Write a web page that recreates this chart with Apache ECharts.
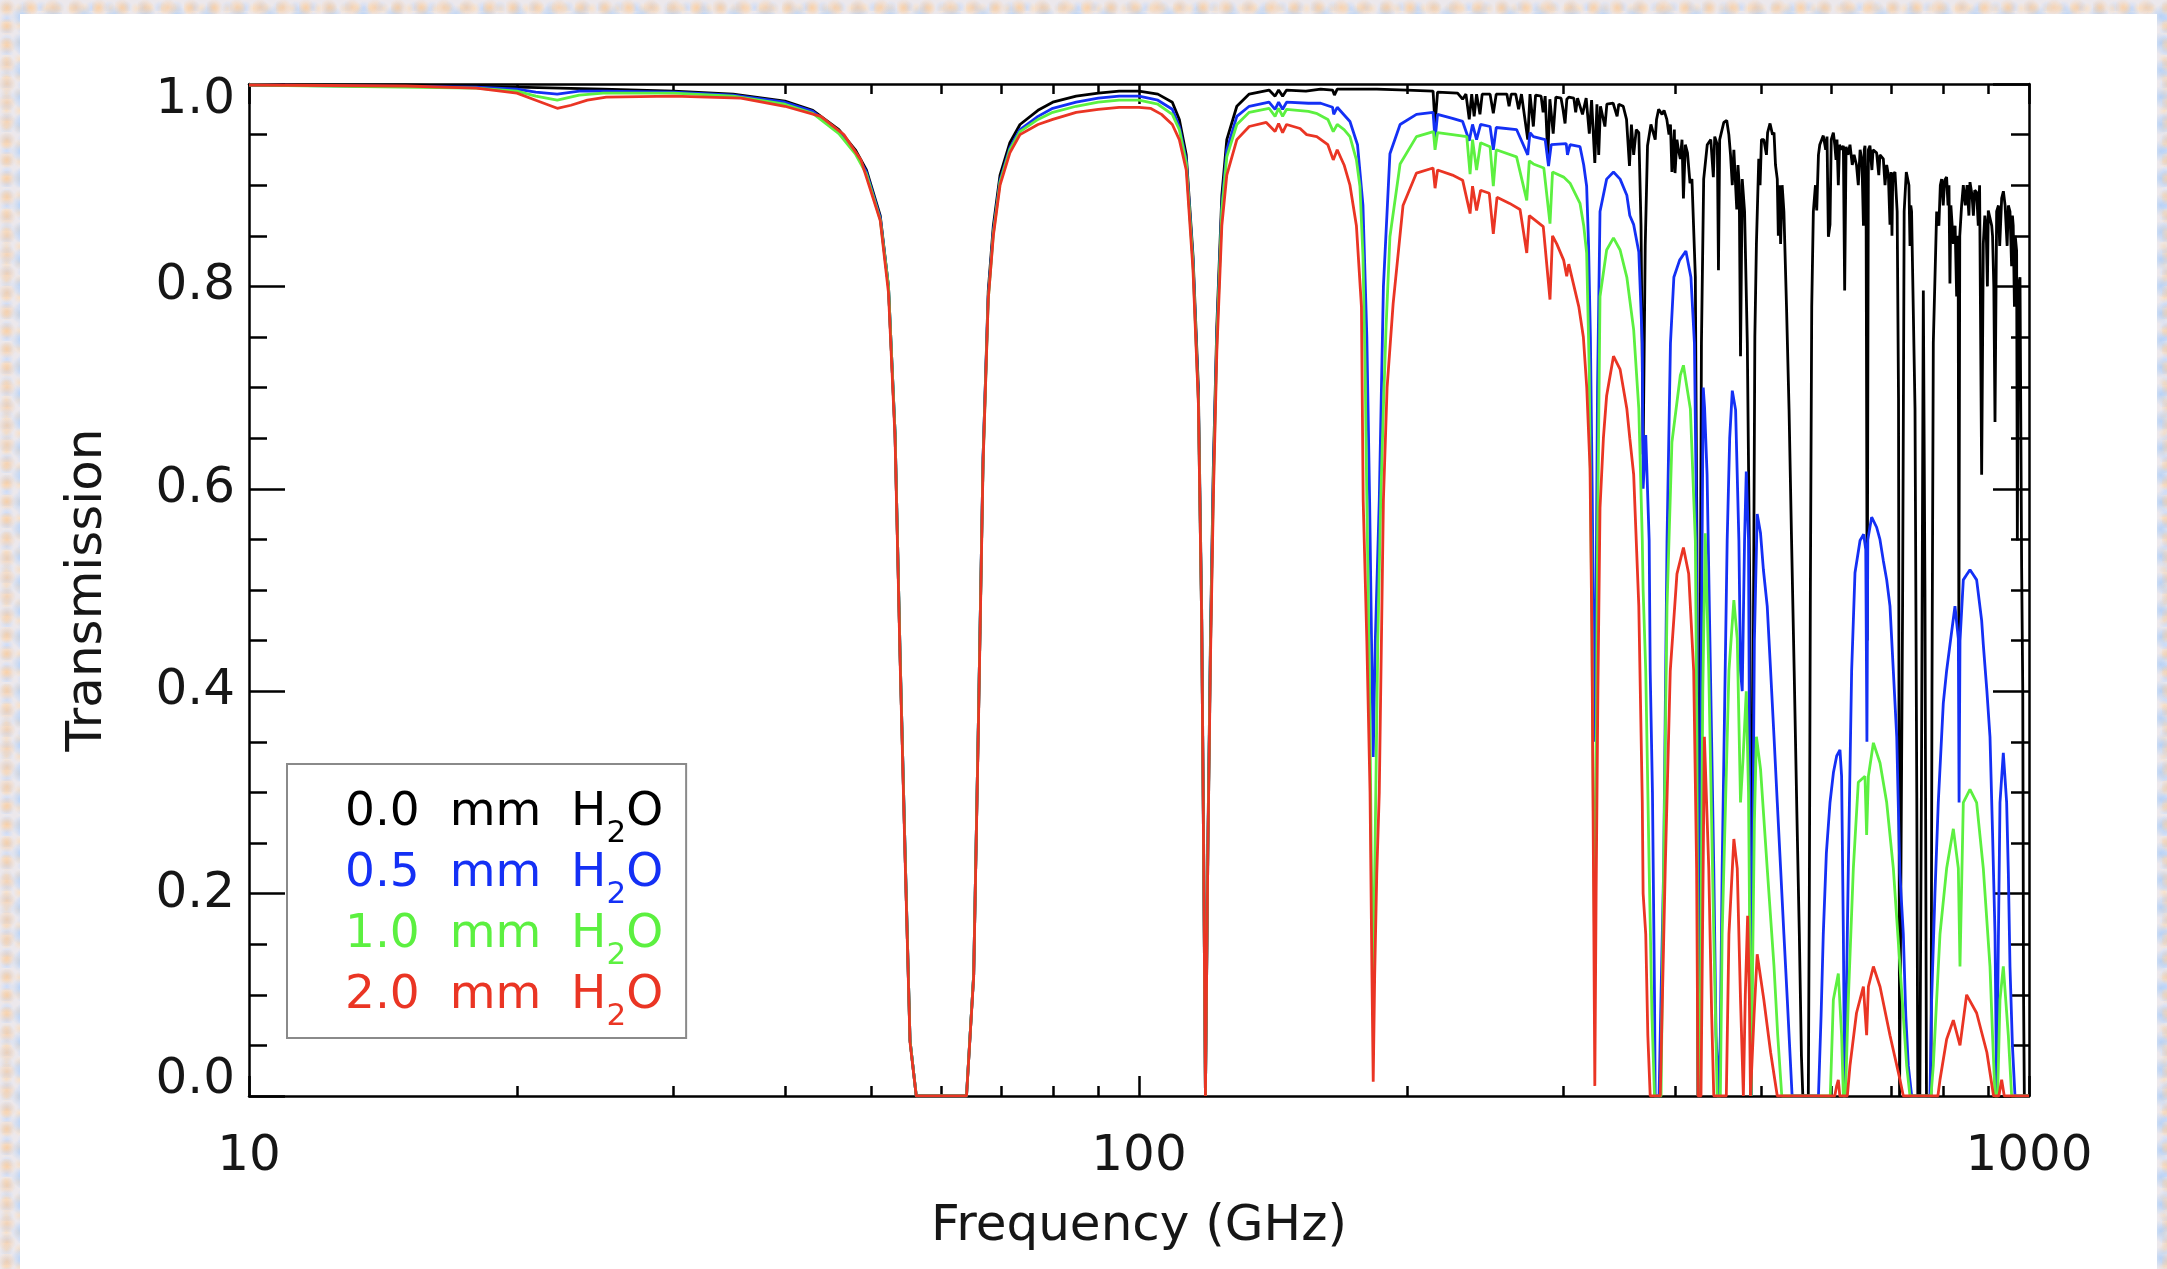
<!DOCTYPE html>
<html>
<head>
<meta charset="utf-8">
<script src="https://cdn.jsdelivr.net/npm/echarts@6/dist/echarts.min.js"></script>
<style>
html,body{margin:0;padding:0;width:2167px;height:1269px;overflow:hidden;}
body{
  background-color:#ece8ec;
  background-image:
    radial-gradient(circle at 30% 40%, rgba(250,200,150,.65) 0, rgba(250,200,150,0) 9px),
    radial-gradient(circle at 70% 60%, rgba(160,200,250,.65) 0, rgba(160,200,250,0) 11px),
    radial-gradient(circle at 50% 50%, rgba(255,220,180,.6) 0, rgba(255,220,180,0) 6px),
    radial-gradient(circle at 40% 70%, rgba(185,212,255,.6) 0, rgba(185,212,255,0) 7px);
  background-size: 23px 19px, 31px 27px, 13px 17px, 17px 11px;
}
#panel{position:absolute;left:20px;top:14px;width:2137px;height:1255px;background:#fff;}
#chart{position:absolute;left:0;top:0;width:2167px;height:1269px;}
</style>
</head>
<body>
<div id="panel"></div>
<div id="chart"></div>
<script>
// ---------------- data (frequency GHz, transmission) ----------------
const seriesNames = ['0.0 mm H2O', '0.5 mm H2O', '1.0 mm H2O', '2.0 mm H2O'];
const seriesColors = ['#000000', '#1430f5', '#5cf040', '#ea3524'];
const xMajorTicks = [10, 100, 1000];
const xMinorTicks = [20, 30, 40, 50, 60, 70, 80, 90, 200, 300, 400, 500, 600, 700, 800, 900];
const yTicks = [0, 0.2, 0.4, 0.6, 0.8, 1.0];

const trans00 = [[10,0.999],[15,0.999],[20,0.997],[25,0.995],[30,0.993],[35,0.99],[40,0.983],[43,0.974],[46,0.955],[48,0.935],[49.4,0.915],[51.2,0.87],[52.3,0.8],[53.2,0.655],[53.9,0.435],[54.6,0.24],[55.3,0.055],[56.2,0],[64,0],[65.2,0.12],[66,0.37],[66.8,0.63],[67.7,0.795],[68.6,0.86],[69.8,0.91],[71.6,0.942],[73.5,0.96],[77,0.974],[80,0.982],[85,0.988],[90,0.991],[95,0.993],[100,0.993],[105,0.99],[109,0.982],[111,0.965],[113,0.93],[115,0.83],[116.6,0.7],[117.6,0.48],[118.2,0.25],[118.75,0],[119.5,0.25],[120.3,0.45],[121.2,0.62],[122.3,0.76],[123.9,0.89],[125.5,0.945],[128.8,0.978],[133,0.99],[140,0.994],[142.2,0.988],[143.5,0.994],[145,0.988],[146.5,0.994],[154,0.993],[160,0.995],[165,0.994],[165.8,0.989],[167,0.995],[185,0.995],[200,0.994],[214,0.993],[215.1,0.96],[216.5,0.992],[228,0.991],[231,0.985],[233,0.99],[235,0.965],[236.5,0.99],[238,0.968],[239.5,0.99],[241.6,0.97],[243,0.99],[248,0.99],[250.1,0.971],[252,0.99],[259,0.99],[260.5,0.978],[262,0.99],[265,0.99],[267,0.975],[269,0.99],[273.4,0.945],[275,0.99],[277.4,0.958],[279,0.989],[283,0.988],[284.5,0.972],[286,0.988],[288,0.928],[289.5,0.985],[292,0.951],[294,0.987],[298,0.986],[299.5,0.975],[301.1,0.961],[302.5,0.985],[304,0.987],[308,0.986],[309.5,0.972],[311,0.986],[315,0.97],[318,0.986],[320.6,0.951],[322.5,0.984],[325.2,0.922],[327,0.98],[328.5,0.93],[330,0.978],[333.8,0.958],[335.5,0.98],[341,0.981],[344.5,0.968],[346,0.98],[350,0.978],[353,0.965],[355.7,0.919],[357.5,0.96],[359.6,0.93],[362,0.955],[364.4,0.952],[366.5,0.86],[368.5,0.634],[370.5,0.84],[372.7,0.939],[376,0.96],[380.2,0.945],[381.5,0.965],[383.6,0.975],[387,0.97],[389,0.974],[391.8,0.965],[394,0.95],[395.5,0.96],[397,0.913],[399.5,0.955],[400.2,0.912],[402.2,0.945],[403.7,0.935],[405.7,0.926],[407.5,0.945],[409,0.887],[411,0.94],[413.3,0.932],[416,0.902],[418.1,0.906],[421.8,0.809],[423.5,0.549],[424.76,0],[426.5,0.3],[428.5,0.744],[431,0.906],[435,0.94],[439,0.945],[441.9,0.908],[443.5,0.948],[446.5,0.94],[447.8,0.816],[449.2,0.945],[454,0.962],[457.5,0.964],[460,0.95],[462,0.93],[464.1,0.9],[466,0.935],[469.5,0.876],[471,0.92],[472.5,0.9],[474.1,0.731],[476.2,0.906],[479.1,0.874],[482.5,0.744],[485.8,0.484],[487.25,0],[489.5,0.35],[492,0.75],[494,0.842],[497,0.926],[498.7,0.9],[500.5,0.945],[503.6,0.945],[507,0.93],[508.5,0.952],[511.7,0.961],[515,0.95],[517,0.952],[519,0.92],[521.4,0.906],[522.8,0.85],[524.5,0.9],[525.9,0.842],[528,0.9],[530.4,0.874],[534,0.78],[537.5,0.679],[541,0.55],[544.7,0.42],[548.5,0.28],[552,0.16],[555,0.04],[557,0],[565,0],[566.5,0.2],[568,0.5],[570,0.78],[572.4,0.874],[575.5,0.9],[577.4,0.875],[580,0.93],[582,0.94],[587.3,0.949],[591,0.935],[593,0.948],[595.1,0.849],[597.6,0.861],[599.5,0.945],[602.8,0.952],[605,0.94],[607,0.925],[608.5,0.945],[610.6,0.9],[612.5,0.94],[616,0.935],[618.6,0.939],[620.7,0.796],[623,0.938],[626,0.93],[629.3,0.94],[633,0.92],[636,0.93],[640,0.92],[643,0.9],[646,0.935],[649,0.925],[651.6,0.86],[653,0.935],[654.2,0.939],[656,0.9],[658,0.45],[660,0.935],[662.7,0.939],[666,0.915],[668,0.935],[674.2,0.932],[678,0.91],[680,0.93],[686,0.926],[689,0.9],[692,0.92],[695,0.91],[697.9,0.861],[700,0.913],[701.5,0.85],[703,0.91],[707,0.913],[711,0.874],[713.5,0.69],[715.4,0],[718,0],[721,0.48],[724,0.874],[728,0.913],[733,0.9],[735,0.84],[736.5,0.88],[738,0.874],[744.6,0.679],[748,0.3],[750,0],[754,0],[757,0.3],[760.8,0.796],[764,0.5],[767,0],[776,0],[778,0.4],[780.7,0.744],[787.5,0.874],[792,0.86],[795,0.9],[797.7,0.906],[801,0.88],[804,0.905],[808,0.908],[811,0.88],[813,0.9],[815,0.803],[817,0.88],[822.2,0.842],[826,0.86],[829.3,0.79],[832.5,0.85],[834.1,0.446],[836,0.85],[840,0.88],[843.7,0.9],[848,0.88],[852,0.9],[856,0.87],[858.4,0.903],[863,0.89],[866,0.87],[869,0.895],[873.3,0.893],[877,0.86],[880,0.9],[884.7,0.614],[888.5,0.842],[892,0.87],[895,0.86],[898,0.8],[900,0.875],[904,0.874],[908,0.86],[910,0.85],[913,0.8],[915.8,0.666],[919.7,0.874],[924,0.88],[927,0.84],[931.7,0.887],[935.9,0.894],[940,0.88],[945,0.84],[948,0.88],[952,0.874],[956,0.82],[958,0.87],[960,0.86],[963,0.78],[965,0.85],[968.5,0.835],[970.3,0.549],[972.7,0.8],[977,0.809],[981.1,0.523],[984,0.4],[986,0.1],[988,0],[1000,0]];

const trans05 = [[10,0.999],[18,0.997],[20,0.995],[21,0.992],[22.2,0.99],[23.5,0.993],[25,0.993],[30,0.992],[35,0.989],[40,0.982],[43,0.973],[46,0.953],[48,0.933],[49.4,0.913],[51.2,0.868],[52.3,0.8],[53.2,0.655],[53.9,0.435],[54.6,0.24],[55.3,0.055],[56.2,0],[64,0],[65.2,0.12],[66,0.37],[66.8,0.63],[67.7,0.79],[68.6,0.855],[69.8,0.905],[71.6,0.937],[73.5,0.955],[77,0.968],[80,0.976],[85,0.982],[90,0.986],[95,0.988],[100,0.988],[105,0.984],[109,0.975],[111,0.958],[113,0.925],[115,0.825],[116.6,0.69],[117.6,0.47],[118.2,0.24],[118.75,0],[119.5,0.24],[120.3,0.44],[121.2,0.61],[122.3,0.75],[123.9,0.88],[125.5,0.935],[128.8,0.968],[133,0.978],[140,0.982],[142.2,0.975],[143.5,0.982],[145,0.975],[146.5,0.982],[155,0.981],[160,0.981],[165,0.977],[165.5,0.97],[167,0.977],[172.6,0.963],[176,0.94],[178.5,0.88],[180.3,0.75],[181.6,0.589],[182.5,0.45],[183.3,0.335],[184.3,0.45],[186.2,0.589],[188.2,0.8],[191.4,0.931],[196.5,0.96],[205,0.97],[214,0.972],[215.1,0.945],[216.5,0.97],[225,0.966],[231,0.963],[235,0.944],[237,0.96],[239.5,0.945],[242,0.96],[248,0.958],[250.1,0.935],[252,0.957],[265.6,0.955],[273.4,0.93],[275,0.952],[277.4,0.948],[286,0.945],[288.5,0.919],[290.5,0.94],[302,0.941],[303,0.93],[305,0.94],[313,0.938],[316,0.92],[318.4,0.899],[320,0.84],[321.5,0.75],[323,0.6],[324.2,0.45],[325.2,0.35],[326.3,0.5],[327.5,0.7],[329.6,0.874],[335.3,0.906],[341.3,0.913],[347.2,0.906],[353.3,0.89],[356,0.87],[359.6,0.861],[364.4,0.834],[367.7,0.744],[368.5,0.6],[371,0.653],[374.3,0.549],[375.3,0.42],[377.5,0.3],[379.5,0.1],[380.2,0],[384,0],[386,0.1],[388.6,0.225],[392,0.549],[395.5,0.744],[399,0.809],[405,0.826],[411.6,0.835],[417,0.809],[420.8,0.744],[422.5,0.614],[423.8,0.42],[424.76,0],[426,0.1],[428,0.4],[430.5,0.7],[432,0.68],[434.8,0.614],[438.6,0.42],[442.4,0.225],[445,0.06],[448,0],[450,0.06],[452.1,0.225],[458,0.549],[461,0.65],[464.1,0.697],[468.1,0.678],[472.1,0.549],[474.1,0.42],[476.2,0.4],[479.1,0.55],[481.2,0.617],[484,0.55],[486,0.2],[487.25,0],[489,0.2],[491.4,0.45],[495,0.575],[499.3,0.556],[503,0.52],[508,0.484],[512.5,0.42],[517,0.355],[521.4,0.29],[525.9,0.225],[530.4,0.16],[535.1,0.095],[541.8,0],[580,0],[584,0.08],[587.3,0.16],[592,0.24],[597.6,0.29],[603,0.32],[608,0.336],[613.2,0.342],[615.8,0.316],[618.6,0.16],[620.7,0],[623.5,0.1],[626.6,0.225],[632,0.42],[637.5,0.517],[645.9,0.549],[652,0.555],[655.5,0.54],[657.5,0.35],[659,0.55],[665.6,0.572],[674.2,0.562],[680,0.55],[686,0.529],[692,0.51],[697.9,0.484],[704,0.42],[710.2,0.355],[716,0.22],[722.4,0.16],[727,0.08],[731.8,0.03],[738.2,0],[774,0],[777.3,0.095],[784,0.2],[790.8,0.29],[801.1,0.388],[808,0.42],[815.1,0.446],[825.7,0.484],[832.9,0.452],[834.5,0.29],[836.5,0.45],[843.7,0.51],[851,0.515],[858.4,0.52],[865.8,0.515],[873.3,0.51],[884.7,0.47],[888.5,0.446],[896.8,0.4],[904,0.355],[910,0.26],[915.8,0.16],[919.7,0],[923.7,0.15],[927.7,0.29],[935.7,0.339],[943.8,0.29],[948,0.22],[952,0.128],[958,0.05],[964.4,0],[1000,0]];

const trans10 = [[10,0.999],[18,0.996],[20,0.993],[21,0.988],[22.2,0.984],[23.5,0.989],[25,0.991],[30,0.991],[35,0.988],[40,0.98],[43,0.971],[46,0.951],[48,0.931],[49.4,0.911],[51.2,0.866],[52.3,0.8],[53.2,0.655],[53.9,0.435],[54.6,0.24],[55.3,0.055],[56.2,0],[64,0],[65.2,0.12],[66,0.37],[66.8,0.625],[67.7,0.787],[68.6,0.852],[69.8,0.903],[71.6,0.935],[73.5,0.953],[77,0.965],[80,0.972],[85,0.978],[90,0.982],[95,0.984],[100,0.984],[105,0.98],[109,0.97],[111,0.955],[113,0.922],[115,0.822],[116.6,0.688],[117.6,0.47],[118.2,0.24],[118.75,0],[119.5,0.24],[120.3,0.44],[121.2,0.6],[122.3,0.745],[123.9,0.875],[125.5,0.928],[128.8,0.96],[133,0.972],[140,0.976],[142.2,0.968],[143.5,0.976],[145,0.968],[146.5,0.975],[155,0.973],[158.2,0.971],[163,0.965],[165.3,0.953],[167,0.96],[170,0.955],[172.6,0.948],[175.5,0.925],[177.1,0.899],[178.5,0.83],[179.5,0.72],[180.3,0.589],[181.6,0.4],[182.6,0.2],[183.3,0.115],[184.2,0.25],[185.5,0.45],[186.9,0.589],[188.2,0.68],[189.5,0.76],[191.4,0.849],[196.5,0.921],[205,0.948],[214.2,0.953],[215.1,0.935],[216.5,0.952],[225,0.95],[233.5,0.948],[235.5,0.911],[237,0.945],[239.5,0.915],[242,0.942],[248,0.938],[250.1,0.899],[252,0.935],[265.6,0.928],[272.7,0.885],[274.5,0.924],[277.4,0.921],[285,0.917],[289.6,0.862],[291.5,0.913],[300,0.908],[305,0.902],[313,0.882],[316,0.86],[318.4,0.833],[320.5,0.72],[322.5,0.5],[324.2,0.25],[325.2,0.12],[326.3,0.3],[327.5,0.55],[329.6,0.79],[335.3,0.836],[341.3,0.848],[347.2,0.836],[353.3,0.809],[359.6,0.757],[364.4,0.679],[367.7,0.549],[368.5,0.5],[371,0.42],[374.3,0.225],[377,0.08],[379.5,0],[386,0],[388.6,0.225],[392,0.484],[397,0.646],[405.7,0.712],[409,0.722],[416.4,0.679],[421.8,0.549],[423.5,0.355],[424.76,0],[427.5,0.1],[430,0.4],[432.8,0.556],[436.7,0.42],[442.4,0.16],[446.3,0],[450,0],[452.1,0.16],[460.1,0.42],[466,0.49],[470.1,0.452],[474.1,0.29],[477,0.33],[481.2,0.4],[484,0.3],[487.25,0],[489.5,0.15],[491.4,0.27],[494,0.355],[499.3,0.323],[508,0.225],[517,0.128],[522,0.06],[527.5,0],[598,0],[602.8,0.095],[610.6,0.121],[615.8,0.06],[618.6,0],[622,0],[626.6,0.095],[634.8,0.225],[643,0.31],[654.2,0.316],[657,0.258],[660,0.316],[668.6,0.349],[680.2,0.329],[692,0.29],[704,0.225],[716.2,0.128],[728.7,0.03],[735,0],[776,0],[780.7,0.03],[794.3,0.16],[808.1,0.225],[822.2,0.264],[832.9,0.225],[836.5,0.128],[843.7,0.29],[858.4,0.303],[873.3,0.29],[888.5,0.225],[904,0.128],[910,0.06],[915.8,0],[922,0],[927.7,0.095],[935.7,0.128],[947.9,0.06],[956.1,0],[1000,0]];

const trans20 = [[10,0.999],[15,0.998],[18,0.996],[20,0.991],[21,0.984],[22.2,0.976],[23,0.979],[24,0.984],[25.2,0.987],[30,0.988],[35.7,0.986],[40,0.978],[43.9,0.968],[46.6,0.95],[48.7,0.925],[51.2,0.865],[52.3,0.794],[53.2,0.65],[53.9,0.43],[54.6,0.235],[55.3,0.053],[56.2,0],[64,0],[65.2,0.118],[66,0.365],[66.8,0.624],[67.7,0.787],[68.6,0.85],[69.8,0.9],[71.6,0.932],[73.5,0.95],[77,0.96],[80,0.965],[85,0.972],[90,0.975],[95,0.977],[100,0.977],[103,0.976],[106,0.97],[109,0.96],[111,0.945],[113,0.915],[115,0.816],[116.6,0.685],[117.6,0.47],[118.2,0.24],[118.75,0],[119.5,0.24],[120.3,0.43],[121.2,0.59],[122.3,0.735],[123.9,0.86],[125.5,0.91],[128.8,0.945],[133,0.958],[139,0.962],[142.2,0.953],[143.5,0.961],[145,0.952],[146.5,0.96],[151.7,0.956],[154.3,0.95],[158.4,0.948],[163,0.94],[165.3,0.925],[167,0.935],[170,0.92],[172.6,0.9],[175.5,0.86],[177.8,0.78],[178.6,0.589],[180.3,0.45],[181.8,0.3],[182.7,0.12],[183.3,0.014],[184,0.12],[185,0.22],[186.2,0.3],[188.2,0.589],[190,0.7],[193,0.783],[198,0.88],[205,0.912],[214,0.917],[215.1,0.897],[216.5,0.915],[225,0.91],[231,0.905],[235.5,0.872],[237,0.899],[239.5,0.875],[242,0.895],[247.5,0.892],[250.1,0.852],[252.5,0.888],[260.9,0.882],[268,0.876],[272.7,0.833],[274.5,0.87],[284.6,0.859],[289.6,0.787],[291.5,0.85],[294.7,0.842],[300,0.826],[302.4,0.81],[304,0.822],[307.6,0.803],[312,0.78],[315.7,0.75],[318.5,0.7],[321.2,0.62],[322.8,0.45],[324.2,0.2],[325.2,0.01],[326.3,0.2],[327.8,0.4],[329.6,0.581],[332.5,0.65],[335.3,0.692],[341.3,0.731],[347.2,0.718],[353.3,0.679],[356,0.65],[359.6,0.614],[364.4,0.484],[367.7,0.29],[368.5,0.2],[371,0.16],[373,0.06],[375.3,0],[385.2,0],[390.2,0.225],[395.3,0.42],[402.2,0.516],[409,0.542],[414.6,0.516],[420,0.42],[423.2,0.225],[424.76,0],[428,0],[431.8,0.355],[436.7,0.225],[440,0.08],[442.4,0],[457,0],[460.1,0.16],[466,0.254],[470.1,0.225],[474.1,0.095],[477.6,0],[480,0.1],[482.9,0.178],[485,0.1],[486.5,0],[489,0],[491,0.08],[495,0.14],[503.6,0.095],[512.5,0.043],[521.4,0],[605,0],[608,0.01],[610.6,0.016],[613,0],[625,0],[629.3,0.03],[640,0.082],[651.5,0.108],[657,0.06],[660,0.108],[668.6,0.128],[680.2,0.108],[697.9,0.06],[716.2,0.016],[722.4,0],[790,0],[794.3,0.016],[808.1,0.056],[822.2,0.075],[836.5,0.05],[851,0.1],[873.3,0.082],[896.8,0.043],[912.4,0],[925,0],[931.7,0.016],[938,0],[1000,0]];

const seriesData = [trans00, trans05, trans10, trans20];

// ---------------- chart ----------------
const FONT = "'DejaVu Sans', 'Liberation Sans', sans-serif";
const TXT = '#161616';
const chart = echarts.init(document.getElementById('chart'), null, {renderer: 'canvas'});

function xAxisDef(position, showLine, showLabel, tickLen, customTicks) {
  const ax = {
    type: 'log', logBase: 10, min: 10, max: 1000, position: position,
    axisLine: {show: showLine, onZero: false, lineStyle: {color: '#000', width: 2.5}},
    axisTick: {show: true, inside: true, length: tickLen, lineStyle: {color: '#000', width: 2.5}},
    axisLabel: {show: showLabel, margin: 36, fontSize: 50, fontFamily: FONT, color: TXT,
      formatter: function (v) { return String(v); }},
    splitLine: {show: false}, minorTick: {show: false}, minorSplitLine: {show: false}
  };
  if (customTicks) ax.axisTick.customValues = customTicks;
  if (showLabel) {
    ax.name = 'Frequency (GHz)';
    ax.nameLocation = 'middle';
    ax.nameGap = 106;
    ax.nameTextStyle = {fontSize: 50, fontFamily: FONT, color: TXT};
  }
  return ax;
}

function yAxisDef(position, showLabel) {
  const ax = {
    type: 'value', min: 0, max: 1, interval: 0.2, position: position,
    axisLine: {show: true, onZero: false, lineStyle: {color: '#000', width: 2.5}},
    axisTick: {show: true, inside: true, length: 36, lineStyle: {color: '#000', width: 2.5}},
    minorTick: {show: true, splitNumber: 4, length: 18, lineStyle: {color: '#000', width: 2.5}},
    axisLabel: {show: showLabel, margin: 14, fontSize: 50, lineHeight: 32, fontFamily: FONT, color: TXT,
      verticalAlignMaxLabel: 'top', verticalAlignMinLabel: 'bottom',
      formatter: function (v) { return v.toFixed(1); }},
    splitLine: {show: false}, minorSplitLine: {show: false}
  };
  if (showLabel) {
    ax.name = 'Transmission';
    ax.nameLocation = 'middle';
    ax.nameGap = 136;
    ax.nameTextStyle = {fontSize: 50, fontFamily: FONT, color: TXT};
  }
  return ax;
}

const richStyles = {};
seriesColors.forEach(function (c, i) {
  richStyles['n' + i] = {fontSize: 47, fontFamily: FONT, color: c, lineHeight: 50, verticalAlign: 'top'};
  richStyles['s' + i] = {fontSize: 31, fontFamily: FONT, color: c, lineHeight: 30, verticalAlign: 'top', padding: [29, 0, 0, 0]};
});

const option = {
  animation: false,
  backgroundColor: 'transparent',
  grid: {left: 249, right: 138, top: 84, bottom: 173, containLabel: false},
  xAxis: [
    xAxisDef('bottom', true, true, 20, null),
    xAxisDef('top', true, false, 20, null),
    xAxisDef('bottom', false, false, 10, xMinorTicks),
    xAxisDef('top', false, false, 10, xMinorTicks)
  ],
  yAxis: [yAxisDef('left', true), yAxisDef('right', false)],
  legend: {
    orient: 'vertical', left: 287, top: 764,
    icon: 'none', itemWidth: 0, itemHeight: 0, itemGap: 1,
    padding: [25, 23, 6, 53],
    borderColor: '#8a8a8a', borderWidth: 2, backgroundColor: '#fff',
    selectedMode: false,
    data: seriesNames,
    formatter: function (name) {
      const i = seriesNames.indexOf(name);
      const parts = name.split(' ');
      return '{n' + i + '|' + parts[0] + '\u00a0\u00a0' + parts[1] + '\u00a0\u00a0H}{s' + i + '|2}{n' + i + '|O}';
    },
    textStyle: {fontSize: 47, fontFamily: FONT, rich: richStyles}
  },
  series: seriesNames.map(function (name, i) {
    return {
      type: 'line', name: name, data: seriesData[i],
      xAxisIndex: 0, yAxisIndex: 0,
      showSymbol: false, symbol: 'none', sampling: null, clip: true,
      lineStyle: {color: seriesColors[i], width: 2.8},
      itemStyle: {color: seriesColors[i]},
      z: 2 + i
    };
  })
};
chart.setOption(option);
</script>
</body>
</html>
